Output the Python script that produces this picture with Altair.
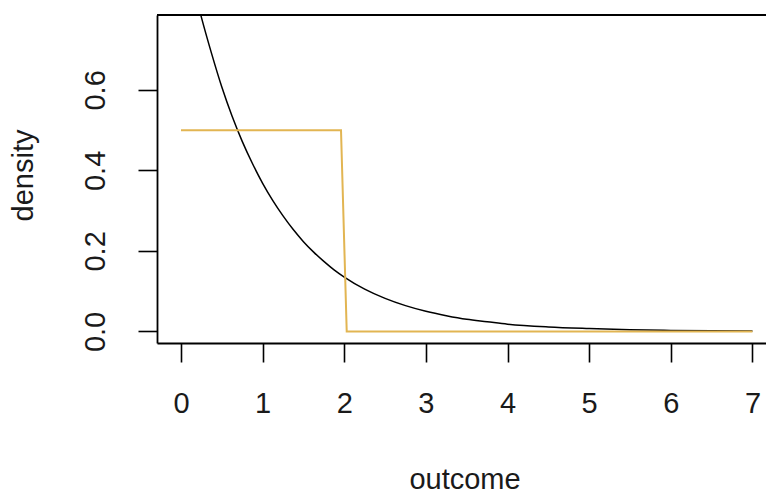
import altair as alt
import pandas as pd

# Exponential density (rate 1), sampled along the outcome axis
exp_x = [0, 0.125, 0.25, 0.375, 0.5, 0.625, 0.75, 0.875, 1, 1.125, 1.25,
         1.375, 1.5, 1.625, 1.75, 1.875, 2, 2.25, 2.5, 2.75, 3, 3.25, 3.5,
         3.75, 4, 4.5, 5, 5.5, 6, 6.5, 7]
exp_y = [1.00, 0.88, 0.78, 0.69, 0.607, 0.535, 0.472, 0.417, 0.368, 0.325,
         0.287, 0.253, 0.223, 0.197, 0.174, 0.153, 0.135, 0.105, 0.082,
         0.064, 0.05, 0.039, 0.03, 0.024, 0.018, 0.011, 0.007, 0.004,
         0.0025, 0.0015, 0.001]

# Uniform(0, 2) density as drawn on the same grid
unif_x = [0, 1.96, 2.03, 7]
unif_y = [0.5, 0.5, 0, 0]

x_ticks = [0, 1, 2, 3, 4, 5, 6, 7]
y_ticks = [0.0, 0.2, 0.4, 0.6]

W, H = 609, 328
FONT = "Liberation Sans"
FS = 29
X_DOMAIN = [-0.294, 7.166]
Y_DOMAIN = [-0.0288, 0.786]

exp_df = pd.DataFrame({"outcome": exp_x, "density": exp_y})
unif_df = pd.DataFrame({"outcome": unif_x, "density": unif_y})

x_enc = alt.X(
    "outcome:Q",
    scale=alt.Scale(domain=X_DOMAIN, nice=False, zero=False),
    axis=alt.Axis(
        values=x_ticks, format="d", grid=False, title="outcome",
        tickSize=19, tickWidth=1.6, tickColor="black",
        domainColor="black", domainWidth=1.8,
        labelFont=FONT, labelFontSize=FS, labelColor="#1a1a1a",
        labelPadding=50, labelBaseline="alphabetic", labelFlush=False,
        titleFont=FONT, titleFontSize=FS, titleFontWeight="normal",
        titleColor="#1a1a1a", titleX=307.5, titleY=145,
        titleBaseline="alphabetic", titleAlign="center",
    ),
)
y_enc = alt.Y(
    "density:Q",
    scale=alt.Scale(domain=Y_DOMAIN, nice=False, zero=False),
    axis=alt.Axis(
        values=y_ticks, format=".1f", grid=False, title="density",
        tickSize=19, tickWidth=1.6, tickColor="black",
        domainColor="black", domainWidth=1.8,
        labelFont=FONT, labelFontSize=FS, labelColor="#1a1a1a",
        labelAngle=270, labelAlign="center", labelBaseline="alphabetic",
        labelPadding=34, labelFlush=False,
        titleFont=FONT, titleFontSize=FS, titleFontWeight="normal",
        titleColor="#1a1a1a", titleAngle=270, titleX=-125, titleY=160,
        titleBaseline="alphabetic", titleAlign="center",
    ),
)

exp_line = alt.Chart(exp_df).mark_line(
    color="black", strokeWidth=1.5, clip=True, interpolate="monotone"
).encode(x=x_enc, y=y_enc)

unif_line = alt.Chart(unif_df).mark_line(
    color="#E2B552", strokeWidth=2, clip=True
).encode(x="outcome:Q", y="density:Q")

# top edge of the plot box
top_edge = alt.Chart(exp_df).mark_rule(color="black", strokeWidth=1.8).encode(
    x=alt.value(0), x2=alt.value(W), y=alt.value(0)
)

chart = (
    alt.layer(exp_line, unif_line, top_edge)
    .properties(
        width=W, height=H,
        autosize=alt.AutoSizeParams(type="none"),
        padding={"left": 157, "top": 15, "right": 0, "bottom": 151},
        background="white",
    )
    .configure_view(stroke=None)
)

chart.save("out.html", embed_options={"renderer": "svg", "actions": False})
